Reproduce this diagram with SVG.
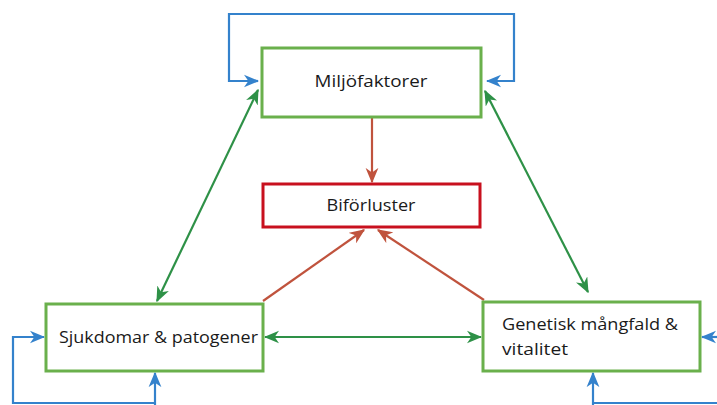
<svg xmlns="http://www.w3.org/2000/svg" width="717" height="405" viewBox="0 0 717 405">
<defs>
<style>
.box{fill:#fff;stroke:#6ab04c;stroke-width:3}
.red{fill:#fff;stroke:#c8101e;stroke-width:3}
.t{font-family:"Open Sans","Noto Sans",sans-serif;font-size:15.5px;fill:#1a1a1a}
.g{stroke:#2e9147;stroke-width:2.2;fill:none}
.b{stroke:#3482cc;stroke-width:2.2;fill:none}
.r{stroke:#c0533d;stroke-width:2.2;fill:none}
</style>
<marker id="ag" viewBox="0 0 12 10" refX="11" refY="5" markerWidth="7" markerHeight="6" orient="auto-start-reverse" markerUnits="strokeWidth"><path d="M0,0 L12,5 L0,10 L3.5,5 z" fill="#2e9147"/></marker>
<marker id="ab" viewBox="0 0 12 10" refX="11" refY="5" markerWidth="7" markerHeight="6" orient="auto-start-reverse" markerUnits="strokeWidth"><path d="M0,0 L12,5 L0,10 L3.5,5 z" fill="#3482cc"/></marker>
<marker id="ar" viewBox="0 0 12 10" refX="11" refY="5" markerWidth="7" markerHeight="6" orient="auto-start-reverse" markerUnits="strokeWidth"><path d="M0,0 L12,5 L0,10 L3.5,5 z" fill="#c0533d"/></marker>
</defs>
<g id="connectors">
<path class="b" d="M248,81 H229 V14 H514 V81 H487" marker-end="url(#ab)"/>
<path class="b" d="M248,81 H258" marker-end="url(#ab)"/>
<path class="b" d="M155,405 V373" marker-end="url(#ab)"/>
<path class="b" d="M155,403 H13 V337 H44" marker-end="url(#ab)"/>
<path class="b" d="M593,405 V373" marker-end="url(#ab)"/>
<path class="b" d="M593,403 H717"/>
<path class="b" d="M717,337 H702" marker-end="url(#ab)"/>
<path class="r" d="M372,118 V182" marker-end="url(#ar)"/>
<path class="r" d="M263,301 L364,230" marker-end="url(#ar)"/>
<path class="r" d="M484,300 L378,230" marker-end="url(#ar)"/>
<path class="g" d="M258,90 L157,301" marker-start="url(#ag)" marker-end="url(#ag)"/>
<path class="g" d="M485,91 L588,292" marker-start="url(#ag)" marker-end="url(#ag)"/>
<path class="g" d="M265,337 H481" marker-start="url(#ag)" marker-end="url(#ag)"/>
</g>
<g id="miljofaktorer">
<rect class="box" x="262" y="48" width="219" height="69"/>
<text class="t" x="371" y="87" text-anchor="middle" textLength="113" lengthAdjust="spacingAndGlyphs">Miljöfaktorer</text>
</g>
<g id="biforluster">
<rect class="red" x="263" y="184" width="217" height="43"/>
<text class="t" x="371" y="211" text-anchor="middle" textLength="89" lengthAdjust="spacingAndGlyphs">Biförluster</text>
</g>
<g id="sjukdomar">
<rect class="box" x="46" y="304" width="217" height="67"/>
<text class="t" x="59" y="343" textLength="199" lengthAdjust="spacingAndGlyphs">Sjukdomar &amp; patogener</text>
</g>
<g id="genetisk">
<rect class="box" x="483" y="302" width="217" height="69"/>
<text class="t" x="502" y="330" textLength="176" lengthAdjust="spacingAndGlyphs">Genetisk mångfald &amp;</text>
<text class="t" x="502" y="355" textLength="66" lengthAdjust="spacingAndGlyphs">vitalitet</text>
</g>
</svg>
